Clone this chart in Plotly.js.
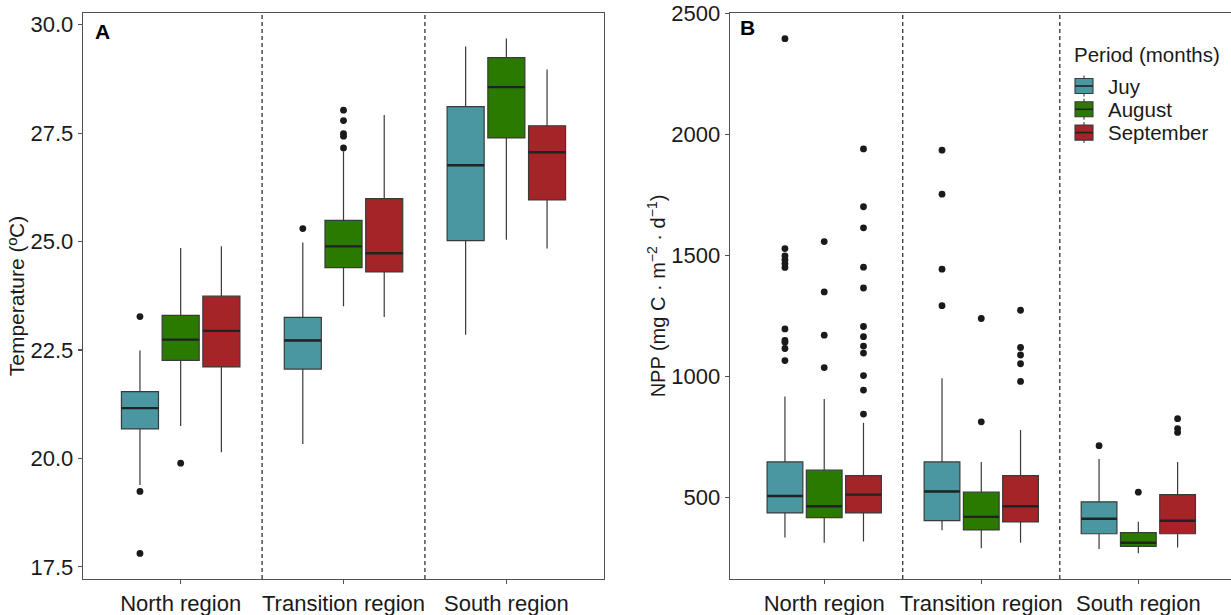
<!DOCTYPE html>
<html>
<head>
<meta charset="utf-8">
<script src="https://cdn.plot.ly/plotly-3.0.1.min.js"></script>
<style>html,body{margin:0;padding:0;background:#fff;}#chart{width:1231px;height:615px;}</style>
</head>
<body>
<div id="chart"></div>
<script>
// ---------------- data ----------------
const regions = ['North region', 'Transition region', 'South region'];
const months = ['Juy', 'August', 'September'];
const monthColors = ['#4a96a1', '#2b7a00', '#a42427'];

// Panel A: temperature (°C); each inner array = one month across regions
const tempLow    = [[19.39, 20.33, 22.85], [20.75, 23.51, 25.04], [20.14, 23.26, 24.84]];
const tempQ1     = [[20.68, 22.06, 25.02], [22.26, 24.40, 27.39], [22.11, 24.30, 25.96]];
const tempMedian = [[21.16, 22.72, 26.76], [22.74, 24.89, 28.56], [22.94, 24.73, 27.06]];
const tempQ3     = [[21.54, 23.25, 28.11], [23.30, 25.49, 29.24], [23.74, 25.99, 27.67]];
const tempHigh   = [[22.49, 24.98, 29.50], [24.85, 27.08, 29.68], [24.89, 27.92, 28.97]];
const tempOutliers = [
  [[23.27, 19.24, 17.81], [25.30], []],
  [[19.89], [28.03, 27.79, 27.49, 27.43, 27.16], []],
  [[], [], []]
];

// Panel B: NPP (mg C m-2 d-1)
const nppLow    = [[334, 364, 286], [312, 289, 268], [317, 312, 292]];
const nppQ1     = [[435, 403, 349], [416, 365, 297], [435, 398, 349]];
const nppMedian = [[505, 524, 411], [463, 419, 312], [511, 463, 403]];
const nppQ3     = [[646, 646, 481], [612, 521, 354], [589, 589, 511]];
const nppHigh   = [[917, 992, 658], [906, 646, 399], [808, 778, 646]];
const nppOutliers = [
  [[2396, 1528, 1498, 1482, 1466, 1450, 1196, 1148, 1141, 1115, 1065], [1935, 1753, 1443, 1292], [713]],
  [[1557, 1349, 1170, 1036], [1239, 812], [521]],
  [[1940, 1701, 1614, 1451, 1365, 1206, 1164, 1125, 1096, 1003, 943, 844], [1273, 1119, 1088, 1052, 979], [825, 784, 768]]
];

const tempTicks = [17.5, 20.0, 22.5, 25.0, 27.5, 30.0];
const nppTicks = [500, 1000, 1500, 2000, 2500];
const legendTitle = 'Period (months)';

// ---------------- style constants ----------------
const FONT = 'Liberation Sans, Arial, sans-serif';
const BOXGAP = 0.25, GROUPGAP = 0.09;
const SLOT = (1 - BOXGAP) / months.length;
const HALF_BOX = SLOT * (1 - GROUPGAP) / 2;

// ---------------- traces ----------------
const traces = [];
const shapes = [];
function addPanel(low, q1, med, q3, high, outs, xa, ya) {
  months.forEach((m, i) => {
    traces.push({
      type: 'box', name: m, x: regions,
      lowerfence: low[i], q1: q1[i], median: med[i], q3: q3[i], upperfence: high[i],
      boxpoints: false, whiskerwidth: 0,
      fillcolor: monthColors[i],
      line: {color: '#3a3a3a', width: 1.2},
      offsetgroup: 'g' + i, showlegend: false,
      xaxis: xa, yaxis: ya, hoverinfo: 'skip'
    });
    // thicker median line (ggplot style), placed on the same box slot
    regions.forEach((r, j) => {
      const c = j + (i - (months.length - 1) / 2) * SLOT;
      shapes.push({type: 'line', xref: xa, yref: ya,
        x0: c - HALF_BOX, x1: c + HALF_BOX, y0: med[i][j], y1: med[i][j],
        line: {color: '#222222', width: 2.4}});
    });
  });
  months.forEach((m, i) => {
    const xs = [], ys = [];
    regions.forEach((r, j) => { outs[i][j].forEach(v => { xs.push(r); ys.push(v); }); });
    traces.push({
      type: 'scatter', mode: 'markers', x: xs, y: ys,
      marker: {color: '#1a1a1a', size: 6.8},
      offsetgroup: 'g' + i, showlegend: false,
      xaxis: xa, yaxis: ya, hoverinfo: 'skip'
    });
  });
}
addPanel(tempLow, tempQ1, tempMedian, tempQ3, tempHigh, tempOutliers, 'x', 'y');
addPanel(nppLow, nppQ1, nppMedian, nppQ3, nppHigh, nppOutliers, 'x2', 'y2');

// ---------------- layout ----------------
const axisCommon = {
  showline: true, mirror: true, linecolor: '#505050', linewidth: 1.3,
  ticks: 'outside', ticklen: 4, tickcolor: '#505050', tickwidth: 1.1,
  showgrid: false, zeroline: false,
  tickfont: {family: FONT, size: 22, color: '#1a1a1a'}
};
function vline(xv, xref) {
  return {type: 'line', xref: xref, yref: (xref === 'x' ? 'y' : 'y2') + ' domain',
    x0: xv, x1: xv, y0: 0, y1: 1,
    line: {color: '#222222', width: 1.2, dash: '4px,3px'}};
}
shapes.push(vline(0.5, 'x'), vline(1.5, 'x'), vline(0.5, 'x2'), vline(1.5, 'x2'));

// manual legend (ggplot-style keys)
const W = 1231, PT = 13, PH = 566;
const px = v => v / W;
const py = v => 1 - (v - PT) / PH;
const annotations = [
  {text: '<b>A</b>', xref: 'paper', yref: 'paper', x: px(93), y: py(31),
   xanchor: 'left', yanchor: 'middle', showarrow: false, font: {family: FONT, size: 21, color: '#000'}},
  {text: '<b>B</b>', xref: 'paper', yref: 'paper', x: px(738), y: py(27.5),
   xanchor: 'left', yanchor: 'middle', showarrow: false, font: {family: FONT, size: 21, color: '#000'}},
  {text: legendTitle, xref: 'paper', yref: 'paper', x: px(1072), y: py(55),
   xanchor: 'left', yanchor: 'middle', showarrow: false, font: {family: FONT, size: 20.5, color: '#1a1a1a'}}
];
const keyCenters = [86, 109.3, 132.6];
months.forEach((m, i) => {
  const cy = keyCenters[i];
  shapes.push({type: 'line', xref: 'paper', yref: 'paper', x0: px(1084), x1: px(1084), y0: py(cy - 10.5), y1: py(cy + 10.5),
    line: {color: '#3a3a3a', width: 1.1}});
  shapes.push({type: 'rect', xref: 'paper', yref: 'paper', x0: px(1075), x1: px(1093), y0: py(cy - 7.5), y1: py(cy + 7.5),
    fillcolor: monthColors[i], line: {color: '#3a3a3a', width: 1.1}});
  shapes.push({type: 'line', xref: 'paper', yref: 'paper', x0: px(1075), x1: px(1093), y0: py(cy), y1: py(cy),
    line: {color: '#222222', width: 1.6}});
  annotations.push({text: m, xref: 'paper', yref: 'paper', x: px(1106), y: py(cy),
    xanchor: 'left', yanchor: 'middle', showarrow: false, font: {family: FONT, size: 20.5, color: '#1a1a1a'}});
});

const layout = {
  width: 1231, height: 615,
  margin: {l: 0, r: 0, t: 13, b: 36},
  paper_bgcolor: '#ffffff', plot_bgcolor: '#ffffff',
  font: {family: FONT, color: '#1a1a1a'},
  boxmode: 'group', boxgap: BOXGAP, boxgroupgap: GROUPGAP,
  scattermode: 'group', scattergap: BOXGAP,
  showlegend: false,
  xaxis: Object.assign({}, axisCommon, {domain: [0.0674, 0.4907], anchor: 'y',
    type: 'category', range: [-0.6, 2.6]}),
  yaxis: Object.assign({}, axisCommon, {anchor: 'x', range: [17.22, 30.27],
    tickvals: tempTicks, tickformat: '.1f',
    title: {text: 'Temperature (ºC)', font: {family: FONT, size: 21, color: '#1a1a1a'}, standoff: 0}}),
  xaxis2: Object.assign({}, axisCommon, {domain: [0.593, 1], anchor: 'y2',
    type: 'category', range: [-0.6, 2.59]}),
  yaxis2: Object.assign({}, axisCommon, {anchor: 'x2', range: [162, 2502],
    tickvals: nppTicks,
    title: {text: 'NPP (mg C · m<sup>−2</sup> · d<sup>−1</sup>)', font: {family: FONT, size: 20, color: '#1a1a1a'}, standoff: 0}}),
  shapes: shapes,
  annotations: annotations
};

Plotly.newPlot('chart', traces, layout, {staticPlot: true, displayModeBar: false});
</script>
</body>
</html>
